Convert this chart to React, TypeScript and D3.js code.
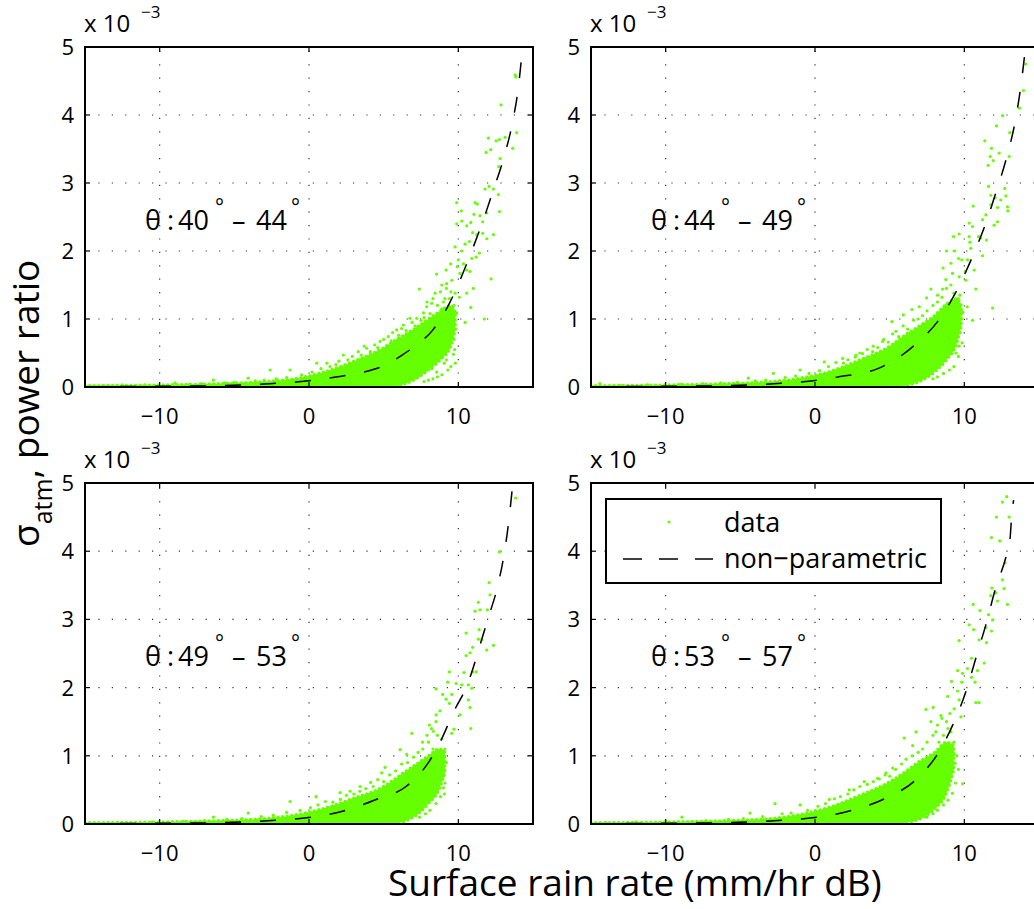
import React from "react";
import * as d3 from "d3";

type P = [number, number];

// ---------- data (y in units of 1e-3) ----------
const xTickValues = [-10, 0, 10];
const yTickValues = [0, 1, 2, 3, 4, 5];
const xDomain: P = [-15, 15];
const yDomain: P = [0, 5];
const angleRanges = [["40", "44"], ["44", "49"], ["49", "53"], ["53", "57"]];
const legendLabels = ["data", "non\u2212parametric"];

const fit1: P[] = [[-15,0.004],[-10,0.01],[-6,0.02],[-3,0.045],[-0.5,0.08],[1.6,0.14],[3,0.19],[4.2,0.25],[5.3,0.34],[6.1,0.45],[7.2,0.62],[8.3,0.84],[9.4,1.23],[10.3,1.67],[11,2.06],[11.6,2.41],[12.35,2.9],[13,3.34],[13.7,3.97],[14,4.37],[14.3,5.0]];
const fit2: P[] = [[-15,0.004],[-10,0.01],[-6,0.02],[-3,0.045],[-0.6,0.08],[1.6,0.15],[4.2,0.27],[5.5,0.42],[6.8,0.64],[8.3,0.99],[9.4,1.38],[10.55,1.92],[11.44,2.41],[12.1,2.85],[12.8,3.35],[13.4,3.9],[13.8,4.45],[14.1,5.0]];
const fit3: P[] = [[-15,0.004],[-10,0.01],[-6,0.02],[-3,0.045],[-0.6,0.08],[2.3,0.19],[4.5,0.36],[6.5,0.55],[7.9,0.87],[8.8,1.21],[9.7,1.65],[10.6,2.04],[11.6,2.73],[12.0,3.02],[12.6,3.46],[13.06,3.95],[13.35,4.39],[13.65,5.0]];
const fit4: P[] = [[-15,0.004],[-10,0.01],[-6,0.02],[-3,0.045],[-0.6,0.08],[2.3,0.19],[4.75,0.38],[6.76,0.65],[8.33,1.07],[9.22,1.45],[10.1,1.94],[10.77,2.43],[11.44,2.92],[12.1,3.46],[12.77,3.9],[13.04,4.14],[13.2,4.58],[13.3,4.75]];

// dense core of each cloud: envelope
const core1X = [-15,-10,-6,-3,-1,1,3,5,6,7,8,8.8,9.5,9.8];
const core1Hi = [0.02,0.03,0.05,0.08,0.12,0.22,0.38,0.58,0.72,0.85,1.0,1.12,1.2,1.1];
const core1Lo = [0,0,0,0,0,0,0,0,0.02,0.1,0.25,0.4,0.6,0.85];
const core2X = [-15,-10,-6,-3,-1,1,3,5,6,7,8,8.8,9.5,9.8];
const core2Hi = [0.02,0.03,0.05,0.08,0.13,0.23,0.4,0.6,0.76,0.9,1.05,1.22,1.3,1.2];
const core2Lo = [0,0,0,0,0,0,0,0,0.02,0.08,0.22,0.4,0.65,0.9];
const core3X = [-15,-10,-6,-3,-1,1,3,5,6,7,8,8.7,9.1];
const core3Hi = [0.02,0.03,0.05,0.08,0.13,0.23,0.38,0.55,0.7,0.85,1.0,1.1,1.05];
const core3Lo = [0,0,0,0,0,0,0,0,0.02,0.1,0.3,0.5,0.75];
const core4X = [-15,-10,-6,-3,-1,1,3,5,6,7,8,8.8,9.3];
const core4Hi = [0.02,0.03,0.05,0.08,0.14,0.25,0.42,0.62,0.76,0.92,1.05,1.2,1.15];
const core4Lo = [0,0,0,0,0,0,0,0,0.02,0.07,0.22,0.45,0.8];

const pts1: P[] = [[13.8,4.59],[13.85,4.56],[12.86,4.15],[12.01,3.66],[11.86,3.45],[12.17,3.49],[12.53,3.62],[12.75,3.64],[13.13,3.67],[13.64,3.51],[13.91,3.74],[12.7,3.24],[12.79,3.36],[11.79,2.91],[12.06,2.95],[12.68,2.83],[12.75,2.58],[12.35,2.91],[9.89,2.71],[10.2,2.59],[11.12,2.71],[11.27,2.69],[9.89,2.4],[10.23,2.44],[10.56,2.37],[10.83,2.42],[11.05,2.54],[11.45,2.52],[11.63,2.43],[11.9,2.56],[10.96,2.27],[11.23,2.24],[11.63,2.26],[11.9,2.18],[12.35,2.24],[9.78,2.06],[10.45,2.1],[10.74,2.14],[10.23,2.0],[11.41,1.97],[10.0,1.87],[10.34,1.81],[10.9,1.89],[11.19,1.91],[8.55,1.66],[9.18,1.72],[9.49,1.81],[9.93,1.77],[10.11,1.67],[10.56,1.72],[10.78,1.7],[12.19,1.59],[11.0,1.45],[7.39,1.44],[8.89,1.5],[9.22,1.52],[9.56,1.57],[9.78,1.38],[10.07,1.32],[10.56,1.38],[10.83,1.17],[11.74,1.0],[10.45,0.95],[9.89,1.09],[8.44,1.38],[8.22,1.23],[7.88,1.18],[7.66,1.09],[7.21,1.01],[6.76,1.01],[9.67,0.48],[9.06,0.35],[8.55,0.22],[8.22,0.27],[9.22,0.62],[9.44,0.74],[9.33,0.88],[5.31,0.74],[5.87,0.84],[6.32,0.91],[4.76,0.67],[3.86,0.57],[2.3,0.47],[3.3,0.52],[0.52,0.35],[1.41,0.3],[7.43,0.27],[7.88,0.25],[-2.6,0.25],[-4.07,0.13],[-6.4,0.1],[-1.27,0.25],[-8.97,0.06],[8.6,1.0],[8.9,1.15],[9.1,1.3],[9.3,1.05],[9.0,0.9],[8.7,0.75],[9.5,1.4],[9.7,1.2],[9.6,0.95],[8.4,0.6],[8.9,0.5],[9.2,0.4],[8.0,0.45],[7.6,0.4]];
const edge1: P[] = [[0.2,0.22],[0.8,0.27],[1.2,0.35],[1.8,0.33],[2.0,0.38],[2.6,0.4],[2.9,0.45],[3.5,0.47],[3.7,0.6],[4.1,0.52],[4.4,0.62],[4.6,0.58],[5.0,0.7],[5.5,0.68],[5.6,0.8],[6.0,0.76],[6.2,0.86],[6.5,0.83],[6.9,0.95],[7.1,0.9],[7.5,0.98],[7.7,1.02],[7.9,1.25],[8.1,1.08],[8.3,1.3],[8.6,1.2],[8.8,1.4],[9.0,1.25],[9.2,1.45],[9.4,1.3],[9.6,1.15],[9.8,0.85],[9.7,0.7],[9.75,0.55],[9.8,0.35],[9.5,0.3],[9.3,0.25],[8.9,0.18],[8.6,0.15],[8.3,0.12],[8.0,0.1],[7.7,0.08],[-0.5,0.18],[-1.5,0.14],[-2.2,0.12],[-3.0,0.1],[-3.6,0.09],[-5.0,0.07],[-5.6,0.06],[-7.2,0.05],[-8.0,0.04],[-11.0,0.03],[-12.5,0.03],[-13.8,0.02]];
const pts2: P[] = [[14.11,4.75],[13.96,4.36],[13.69,4.1],[12.56,3.99],[12.15,3.84],[13.04,3.74],[11.37,3.62],[11.82,3.51],[12.33,3.44],[11.73,3.39],[11.93,3.33],[11.59,3.26],[13.0,3.39],[11.62,2.95],[11.77,2.82],[12.06,2.78],[12.44,2.75],[12.71,2.92],[12.78,2.81],[11.77,2.68],[12.22,2.64],[12.89,2.65],[12.91,2.59],[10.59,2.66],[11.44,2.53],[11.22,2.46],[12.22,2.43],[11.99,2.38],[10.32,2.41],[10.55,2.36],[10.95,2.21],[11.1,2.19],[11.48,2.16],[9.65,2.25],[9.28,2.21],[10.32,2.21],[10.37,2.13],[8.81,2.0],[9.36,2.0],[10.43,2.04],[11.22,1.93],[8.58,1.75],[9.1,1.82],[9.61,1.89],[9.83,1.87],[10.21,1.87],[10.66,1.72],[10.06,1.7],[9.65,1.62],[9.21,1.67],[8.76,1.58],[7.76,1.44],[7.47,1.31],[8.21,1.35],[8.54,1.44],[10.1,1.57],[10.77,1.44],[11.89,1.16],[10.19,1.18],[10.55,0.98],[5.91,1.06],[6.49,1.14],[6.98,1.18],[5.15,0.96],[5.42,0.82],[9.65,0.6],[9.48,0.79],[9.43,0.5],[8.43,0.37],[7.83,0.2],[7.16,0.18],[3.86,0.52],[2.74,0.47],[3.19,0.49],[0.62,0.37],[1.85,0.42],[4.53,0.67],[6.42,0.1],[-1.0,0.25],[-2.79,0.2],[-4.46,0.13],[-14.4,0.05],[8.8,1.2],[9.0,1.05],[9.2,0.95],[8.6,0.8],[9.4,1.2],[9.7,1.35],[9.9,1.1],[8.9,0.65],[8.2,0.55],[7.6,0.45]];
const edge2: P[] = [[0.3,0.24],[0.9,0.3],[1.4,0.36],[1.9,0.35],[2.2,0.4],[2.7,0.44],[3.0,0.5],[3.5,0.55],[3.9,0.6],[4.2,0.58],[4.6,0.7],[4.9,0.66],[5.2,0.78],[5.6,0.74],[5.9,0.9],[6.2,0.85],[6.6,0.98],[6.9,1.0],[7.2,1.05],[7.5,1.12],[7.9,1.2],[8.2,1.25],[8.5,1.32],[8.8,1.45],[9.1,1.5],[9.3,1.38],[9.6,1.3],[9.8,1.0],[9.7,0.8],[9.85,0.65],[9.6,0.45],[9.3,0.3],[9.0,0.25],[8.6,0.2],[8.2,0.15],[7.9,0.12],[-0.4,0.2],[-1.3,0.16],[-2.0,0.14],[-3.3,0.1],[-4.0,0.09],[-5.2,0.07],[-6.3,0.06],[-7.5,0.05],[-9.0,0.04],[-11.2,0.03],[-13.0,0.02]];
const pts3: P[] = [[13.84,4.78],[12.75,3.99],[12.06,3.54],[12.12,3.36],[11.34,3.25],[11.12,3.12],[11.45,3.14],[11.94,3.14],[10.52,2.8],[11.39,2.85],[11.34,2.71],[11.57,2.7],[12.35,2.62],[11.9,2.55],[10.96,2.59],[10.52,2.47],[10.78,2.51],[10.96,2.23],[11.19,2.23],[9.4,2.23],[10.38,2.22],[9.29,2.08],[9.85,2.06],[10.23,2.04],[10.67,2.04],[10.9,1.99],[8.51,1.98],[8.95,1.9],[9.56,1.9],[10.67,1.82],[9.18,1.83],[9.4,1.77],[10.78,1.71],[10.11,1.6],[8.51,1.6],[8.77,1.66],[10.83,1.4],[9.56,1.33],[9.71,1.39],[8.06,1.45],[8.33,1.36],[6.88,1.33],[7.62,1.1],[6.1,1.09],[6.54,1.02],[5.09,0.83],[4.87,0.75],[4.13,0.61],[9.0,0.53],[9.06,0.44],[8.33,0.6],[9.0,1.07],[8.44,0.72],[7.66,0.26],[6.95,0.23],[6.65,0.19],[3.42,0.55],[2.08,0.46],[0.47,0.4],[2.75,0.48],[-1.27,0.33],[-4.07,0.16],[-6.4,0.1],[8.0,1.2],[8.3,1.1],[8.6,1.3],[8.8,1.0],[8.2,0.85],[7.8,0.7],[8.6,0.5],[7.4,0.5],[8.9,0.85]];
const edge3: P[] = [[0.1,0.24],[0.6,0.28],[1.1,0.33],[1.6,0.32],[2.1,0.36],[2.5,0.42],[3.0,0.44],[3.4,0.48],[3.8,0.52],[4.3,0.55],[4.6,0.65],[5.0,0.62],[5.4,0.72],[5.8,0.78],[6.2,0.88],[6.6,0.9],[7.0,0.98],[7.3,1.05],[7.6,1.2],[7.9,1.3],[8.2,1.4],[8.5,1.5],[8.9,1.25],[9.1,1.1],[9.2,0.9],[9.0,0.7],[9.1,0.6],[8.8,0.4],[8.5,0.3],[8.1,0.2],[7.8,0.15],[7.4,0.1],[-0.6,0.2],[-1.5,0.17],[-2.4,0.13],[-3.2,0.11],[-4.5,0.08],[-5.5,0.07],[-7.0,0.05],[-8.4,0.04],[-10.5,0.03],[-12.8,0.02]];
const pts4: P[] = [[12.84,4.8],[12.55,4.72],[12.15,4.5],[13.0,4.5],[11.82,4.2],[12.37,4.15],[12.73,3.83],[12.55,3.58],[12.66,3.45],[11.84,3.46],[12.11,3.39],[11.77,3.35],[12.22,3.27],[12.89,3.22],[10.59,3.22],[11.04,3.13],[11.62,3.07],[11.89,2.99],[10.32,2.92],[10.62,2.85],[11.44,2.88],[11.82,2.83],[9.65,2.69],[10.99,2.7],[11.48,2.66],[10.48,2.43],[11.33,2.36],[9.55,2.25],[10.21,2.28],[9.88,2.21],[10.88,2.25],[9.14,2.09],[9.83,2.08],[10.72,2.08],[10.48,2.15],[8.88,1.87],[9.55,1.95],[9.65,1.82],[10.77,1.78],[10.99,1.78],[9.03,1.62],[9.32,1.69],[7.43,1.68],[7.91,1.71],[9.77,1.57],[8.43,1.59],[7.76,1.5],[8.09,1.35],[6.76,1.35],[5.97,1.26],[9.21,1.16],[9.32,1.02],[9.88,0.59],[9.38,0.89],[8.43,0.48],[8.09,0.38],[7.54,0.28],[7.2,0.18],[6.54,1.15],[5.2,0.82],[4.75,0.75],[4.19,0.67],[3.3,0.62],[2.29,0.5],[0.96,0.36],[-1.0,0.28],[-2.68,0.3],[-4.35,0.16],[-8.91,0.1],[8.6,1.3],[8.3,1.2],[8.9,1.4],[8.7,1.05],[9.0,0.95],[8.5,0.85],[8.0,0.6],[7.6,0.5]];
const edge4: P[] = [[0.2,0.26],[0.7,0.3],[1.3,0.37],[1.7,0.4],[2.2,0.44],[2.6,0.5],[3.0,0.55],[3.5,0.58],[3.9,0.62],[4.3,0.66],[4.7,0.72],[5.0,0.7],[5.4,0.8],[5.8,0.88],[6.1,0.95],[6.5,1.0],[6.9,1.05],[7.2,1.1],[7.5,1.2],[7.9,1.3],[8.2,1.45],[8.5,1.55],[8.8,1.5],[9.1,1.35],[9.3,1.2],[9.5,1.0],[9.6,0.8],[9.4,0.6],[9.2,0.45],[8.9,0.35],[8.6,0.28],[8.2,0.2],[7.9,0.15],[7.5,0.1],[-0.5,0.2],[-1.6,0.16],[-2.2,0.15],[-3.5,0.11],[-4.8,0.08],[-5.8,0.07],[-7.3,0.05],[-10.0,0.04],[-12.0,0.03],[-14.0,0.02]];

// ---------- layout ----------
const W = 1034;
const H = 909;
const PW = 448;
const FONT = "'Open Sans', sans-serif";
const GREEN = "#66ff00";

const panels = [
  { id: 1, x0: 85, y0: 47, h: 340, fit: fit1, pts: pts1.concat(edge1), cx: core1X, clo: core1Lo, chi: core1Hi, range: angleRanges[0], legend: false },
  { id: 2, x0: 591, y0: 47, h: 340, fit: fit2, pts: pts2.concat(edge2), cx: core2X, clo: core2Lo, chi: core2Hi, range: angleRanges[1], legend: false },
  { id: 3, x0: 85, y0: 483, h: 341, fit: fit3, pts: pts3.concat(edge3), cx: core3X, clo: core3Lo, chi: core3Hi, range: angleRanges[2], legend: false },
  { id: 4, x0: 591, y0: 483, h: 341, fit: fit4, pts: pts4.concat(edge4), cx: core4X, clo: core4Lo, chi: core4Hi, range: angleRanges[3], legend: true },
];

const fmt = (v: number) => (v < 0 ? "\u2212" + Math.abs(v) : String(v));

function Panel(p: typeof panels[number]) {
  const { x0, y0, h } = p;
  const x = d3.scaleLinear().domain(xDomain).range([x0, x0 + PW]);
  const y = d3.scaleLinear().domain(yDomain).range([y0 + h, y0]);
  const line = d3.line<P>().x((d) => x(d[0])).y((d) => y(d[1])).curve(d3.curveMonotoneX);
  const area = d3
    .area<number>()
    .x((d) => x(d))
    .y0((_, i) => y(p.clo[i]))
    .y1((_, i) => y(p.chi[i]))
    .curve(d3.curveMonotoneX);
  const clip = `clip${p.id}`;
  const x1 = x0 + PW;
  const yb = y0 + h;
  return (
    <g>
      <defs>
        <clipPath id={clip}>
          <rect x={x0} y={y0} width={PW} height={h} />
        </clipPath>
      </defs>
      {/* grid */}
      <g stroke="#333" strokeWidth={1.2} strokeDasharray="1.2 12.2">
        {xTickValues.map((t) => (
          <line key={"gx" + t} x1={x(t)} x2={x(t)} y1={yb} y2={y0} />
        ))}
        {yTickValues.slice(1, -1).map((t) => (
          <line key={"gy" + t} x1={x0} x2={x1} y1={y(t)} y2={y(t)} />
        ))}
      </g>
      <g clipPath={`url(#${clip})`}>
        <path
          d={area(p.cx) || ""}
          fill={GREEN}
          stroke={GREEN}
          strokeWidth={3.3}
          strokeDasharray="0 4.6"
          strokeLinecap="round"
        />
        {p.pts.map((d, i) => (
          <circle key={i} cx={x(d[0])} cy={y(d[1])} r={1.6} fill={GREEN} />
        ))}
        <path d={line(p.fit) || ""} fill="none" stroke="#000" strokeWidth={1.5} strokeDasharray="16 19" />
      </g>
      {/* frame */}
      <rect x={x0} y={y0} width={PW} height={h} fill="none" stroke="#000" strokeWidth={2} />
      {/* ticks */}
      <g stroke="#000" strokeWidth={1.2}>
        {xTickValues.map((t) => (
          <g key={"tx" + t}>
            <line x1={x(t)} x2={x(t)} y1={yb} y2={yb - 5} />
            <line x1={x(t)} x2={x(t)} y1={y0} y2={y0 + 5} />
          </g>
        ))}
        {yTickValues.map((t) => (
          <g key={"ty" + t}>
            <line x1={x0} x2={x0 + 5} y1={y(t)} y2={y(t)} />
            <line x1={x1} x2={x1 - 5} y1={y(t)} y2={y(t)} />
          </g>
        ))}
      </g>
      {/* tick labels */}
      <g fontFamily={FONT} fontSize={22} fill="#000">
        {xTickValues.map((t) => (
          <text key={"lx" + t} x={x(t)} y={yb + 37} textAnchor="middle">
            {fmt(t)}
          </text>
        ))}
        {yTickValues.map((t) => (
          <text key={"ly" + t} x={x0 - 11} y={y(t) + 8} textAnchor="end">
            {fmt(t)}
          </text>
        ))}
      </g>
      {/* exponent */}
      <text fontFamily={FONT} fontSize={24} x={x0 - 1} y={y0 - 15}>x 10</text>
      <text fontFamily={FONT} fontSize={17} x={x0 + 56} y={y0 - 29}>{"\u22123"}</text>
      {/* angle annotation */}
      <g fontFamily={FONT} fill="#000">
        <text fontSize={27} y={y0 + 183}>
          <tspan x={x0 + 60}>{"\u03b8"}</tspan>
          <tspan x={x0 + 82}>:</tspan>
          <tspan x={x0 + 93}>{p.range[0]}</tspan>
          <tspan x={x0 + 147}>{"\u2013"}</tspan>
          <tspan x={x0 + 171}>{p.range[1]}</tspan>
        </text>
        <text fontSize={21} y={y0 + 167}>
          <tspan x={x0 + 130}>°</tspan>
          <tspan x={x0 + 206}>°</tspan>
        </text>
      </g>
      {p.legend && (
        <g fontFamily={FONT} fontSize={27}>
          <rect x={606} y={499} width={335} height={84} fill="#fff" stroke="#000" strokeWidth={2} />
          <circle cx={669} cy={522} r={1.6} fill={GREEN} />
          <text x={724} y={532}>{legendLabels[0]}</text>
          <line x1={623} x2={713} y1={559} y2={559} stroke="#000" strokeWidth={1.5} strokeDasharray="19 17" />
          <text x={724} y={568}>{legendLabels[1]}</text>
        </g>
      )}
    </g>
  );
}

export default function App() {
  return (
    <svg
      width={W}
      height={H}
      viewBox={`0 0 ${W} ${H}`}
      style={{ position: "absolute", left: 0, top: 0, background: "#fff" }}
    >
      <rect x={0} y={0} width={W} height={H} fill="#fff" />
      {panels.map((p) => (
        <Panel key={p.id} {...p} />
      ))}
      <text fontFamily={FONT} fontSize={37} x={388} y={896}>
        Surface rain rate (mm/hr dB)
      </text>
      <text fontFamily={FONT} fontSize={37} transform="translate(39,547) rotate(-90)">
        {"\u03c3"}
        <tspan fontSize={25} dy={13}>atm</tspan>
        <tspan dy={-13}>, power ratio</tspan>
      </text>
    </svg>
  );
}
